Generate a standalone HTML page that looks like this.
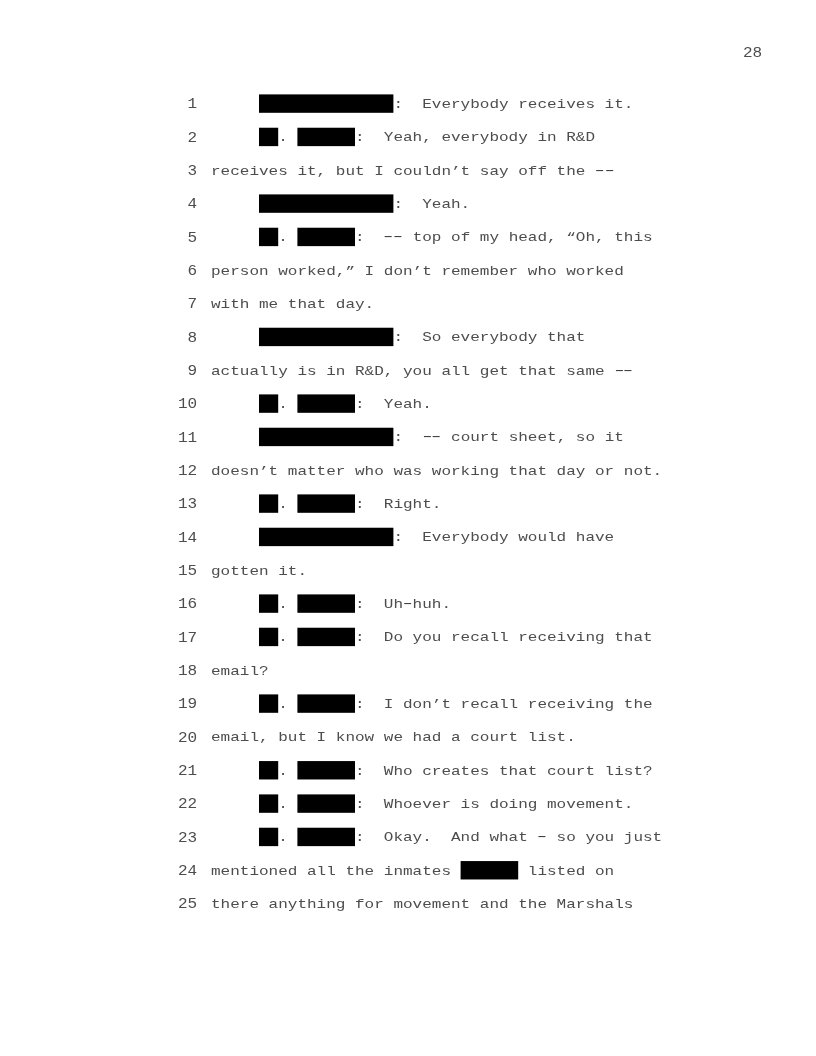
<!DOCTYPE html>
<html lang="en"><head><meta charset="utf-8"><title>Transcript page 28</title>
<style>
html,body{margin:0;padding:0;background:#fff;}
body{width:816px;height:1056px;position:relative;overflow:hidden;
font-family:"Liberation Mono","DejaVu Sans Mono",monospace;font-size:13.0px;color:#4d4d4d;}
.l{will-change:transform;position:absolute;left:0;height:22px;line-height:22px;white-space:pre;margin:0;}
.n,.t,.pg{position:absolute;transform-origin:0 0;transform:scaleX(1.23057);}
.n{left:178.4px;top:-1px;width:16.803px;text-align:right;font-size:14.0px;transform:scaleX(1.14267);}
.t{left:211.3px;top:0;}
.u{top:-1px;}
.h{display:inline-block;transform:scaleX(1.6);position:relative;top:-1px;color:#333;}
.pg{will-change:transform;left:743.1px;top:42px;font-size:14.0px;transform:scaleX(1.14267);height:22px;line-height:22px;white-space:pre;}
svg{position:absolute;left:0;top:0;}
</style></head><body>
<div class="pg">28</div>
<div class="l" style="top:94.40px"><span class="n">1</span><span class="t">                   :  Everybody receives it.</span></div>
<div class="l" style="top:127.73px"><span class="n">2</span><span class="t u">       .       :  Yeah, everybody in R&amp;D</span></div>
<div class="l" style="top:161.07px"><span class="n">3</span><span class="t">receives it, but I couldn’t say off the <span class="h">-</span><span class="h">-</span></span></div>
<div class="l" style="top:194.40px"><span class="n">4</span><span class="t">                   :  Yeah.</span></div>
<div class="l" style="top:227.73px"><span class="n">5</span><span class="t u">       .       :  <span class="h">-</span><span class="h">-</span> top of my head, “Oh, this</span></div>
<div class="l" style="top:261.07px"><span class="n">6</span><span class="t">person worked,” I don’t remember who worked</span></div>
<div class="l" style="top:294.40px"><span class="n">7</span><span class="t">with me that day.</span></div>
<div class="l" style="top:327.73px"><span class="n">8</span><span class="t u">                   :  So everybody that</span></div>
<div class="l" style="top:361.07px"><span class="n">9</span><span class="t">actually is in R&amp;D, you all get that same <span class="h">-</span><span class="h">-</span></span></div>
<div class="l" style="top:394.40px"><span class="n">10</span><span class="t">       .       :  Yeah.</span></div>
<div class="l" style="top:427.73px"><span class="n">11</span><span class="t u">                   :  <span class="h">-</span><span class="h">-</span> court sheet, so it</span></div>
<div class="l" style="top:461.07px"><span class="n">12</span><span class="t">doesn’t matter who was working that day or not.</span></div>
<div class="l" style="top:494.40px"><span class="n">13</span><span class="t">       .       :  Right.</span></div>
<div class="l" style="top:527.73px"><span class="n">14</span><span class="t u">                   :  Everybody would have</span></div>
<div class="l" style="top:561.07px"><span class="n">15</span><span class="t">gotten it.</span></div>
<div class="l" style="top:594.40px"><span class="n">16</span><span class="t">       .       :  Uh<span class="h">-</span>huh.</span></div>
<div class="l" style="top:627.73px"><span class="n">17</span><span class="t u">       .       :  Do you recall receiving that</span></div>
<div class="l" style="top:661.07px"><span class="n">18</span><span class="t">email?</span></div>
<div class="l" style="top:694.40px"><span class="n">19</span><span class="t">       .       :  I don’t recall receiving the</span></div>
<div class="l" style="top:727.73px"><span class="n">20</span><span class="t u">email, but I know we had a court list.</span></div>
<div class="l" style="top:761.07px"><span class="n">21</span><span class="t">       .       :  Who creates that court list?</span></div>
<div class="l" style="top:794.40px"><span class="n">22</span><span class="t">       .       :  Whoever is doing movement.</span></div>
<div class="l" style="top:827.73px"><span class="n">23</span><span class="t u">       .       :  Okay.  And what <span class="h">-</span> so you just</span></div>
<div class="l" style="top:861.07px"><span class="n">24</span><span class="t">mentioned all the inmates        listed on</span></div>
<div class="l" style="top:894.40px"><span class="n">25</span><span class="t">there anything for movement and the Marshals</span></div>
<svg width="816" height="1056" viewBox="0 0 816 1056" fill="#000">
<rect x="259.00" y="94.40" width="134.40" height="18.4"/>
<rect x="259.00" y="127.73" width="19.20" height="18.4"/>
<rect x="297.40" y="127.73" width="57.60" height="18.4"/>
<rect x="259.00" y="194.40" width="134.40" height="18.4"/>
<rect x="259.00" y="227.73" width="19.20" height="18.4"/>
<rect x="297.40" y="227.73" width="57.60" height="18.4"/>
<rect x="259.00" y="327.73" width="134.40" height="18.4"/>
<rect x="259.00" y="394.40" width="19.20" height="18.4"/>
<rect x="297.40" y="394.40" width="57.60" height="18.4"/>
<rect x="259.00" y="427.73" width="134.40" height="18.4"/>
<rect x="259.00" y="494.40" width="19.20" height="18.4"/>
<rect x="297.40" y="494.40" width="57.60" height="18.4"/>
<rect x="259.00" y="527.73" width="134.40" height="18.4"/>
<rect x="259.00" y="594.40" width="19.20" height="18.4"/>
<rect x="297.40" y="594.40" width="57.60" height="18.4"/>
<rect x="259.00" y="627.73" width="19.20" height="18.4"/>
<rect x="297.40" y="627.73" width="57.60" height="18.4"/>
<rect x="259.00" y="694.40" width="19.20" height="18.4"/>
<rect x="297.40" y="694.40" width="57.60" height="18.4"/>
<rect x="259.00" y="761.07" width="19.20" height="18.4"/>
<rect x="297.40" y="761.07" width="57.60" height="18.4"/>
<rect x="259.00" y="794.40" width="19.20" height="18.4"/>
<rect x="297.40" y="794.40" width="57.60" height="18.4"/>
<rect x="259.00" y="827.73" width="19.20" height="18.4"/>
<rect x="297.40" y="827.73" width="57.60" height="18.4"/>
<rect x="460.60" y="861.07" width="57.60" height="18.4"/>
</svg>
</body></html>
